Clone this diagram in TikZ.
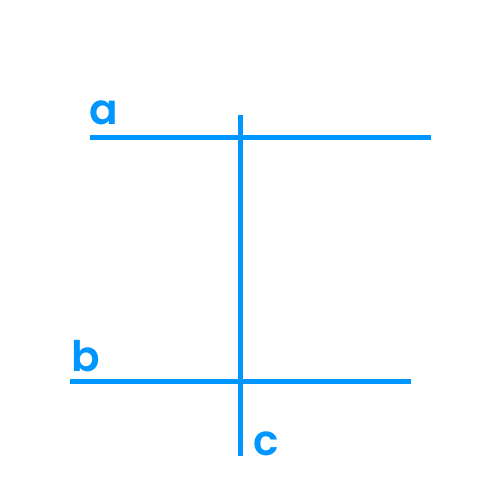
\documentclass[tikz,border=0pt]{standalone}
\usepackage{fontspec}
\setmainfont{Poppins}[UprightFont={* SemiBold}]
\definecolor{lineblue}{HTML}{0096FF}
\begin{document}
\begin{tikzpicture}[x=0.02cm,y=-0.02cm,
  seg/.style={draw=lineblue,line width=0.1cm},
  lbl/.style={text=lineblue,font=\fontsize{24}{28}\selectfont,anchor=base,inner sep=0pt}]
\useasboundingbox[fill=white] (0,0) rectangle (500,500);
\coordinate (a1) at (90,137); \coordinate (a2) at (431,137);
\coordinate (b1) at (70,381); \coordinate (b2) at (411,381);
\coordinate (c1) at (240.5,115); \coordinate (c2) at (240.5,456);
\draw[seg] (a1) -- (a2);
\draw[seg] (b1) -- (b2);
\draw[seg] (c1) -- (c2);
\node[lbl] (la) at (104,125) {a};
\node[lbl] (lb) at (86,371) {b};
\node[lbl] (lc) at (266,455) {c};
\end{tikzpicture}
\end{document}
